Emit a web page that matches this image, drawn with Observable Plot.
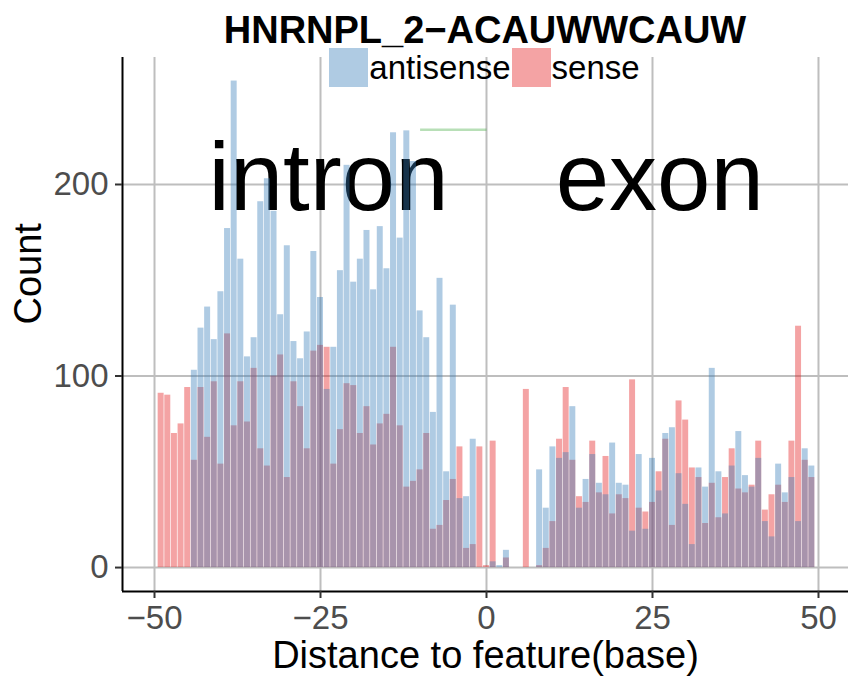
<!DOCTYPE html>
<html>
<head>
<meta charset="utf-8">
<script src="https://cdn.jsdelivr.net/npm/d3@7"></script>
<script src="https://cdn.jsdelivr.net/npm/@observablehq/plot@0.6"></script>
<style>
  body { margin: 0; background: #fff; font-family: "Liberation Sans", Arial, sans-serif; }
  #wrap { position: relative; width: 848px; height: 676px; }
  #title { position: absolute; left: 122px; width: 726px; top: 11px; text-align: center;
           font-weight: bold; font-size: 38px; line-height: 38px; color: #000; }
  #legend { position: absolute; left: 122px; width: 726px; top: 48px; display: flex;
            justify-content: center; align-items: center; font-size: 33px; line-height: 39px; color: #000; }
  .key { width: 39px; height: 39px; margin-right: 1px; }
  .lab { margin-right: 1px; }
</style>
</head>
<body>
<div id="wrap">
  <div id="chart"></div>
  <div id="title"></div>
  <div id="legend"></div>
</div>
<script>
const xPos = [-49,-48,-47,-46,-45,-44,-43,-42,-41,-40,-39,-38,-37,-36,-35,-34,-33,-32,-31,-30,
  -29,-28,-27,-26,-25,-24,-23,-22,-21,-20,-19,-18,-17,-16,-15,-14,-13,-12,-11,-10,
  -9,-8,-7,-6,-5,-4,-3,-2,-1,0,1,2,3,4,5,6,7,8,9,10,
  11,12,13,14,15,16,17,18,19,20,21,22,23,24,25,26,27,28,29,30,
  31,32,33,34,35,36,37,38,39,40,41,42,43,44,45,46,47,48,49];

const antisense = [0,0,0,0,0,103,125,136,119,144,177,254,161,110,120,191,203,186,132,168,
  118,109,123,165,141,93,115,155,210,149,161,176,145,178,156,227,172,228,212,134,
  120,81,151,50,137,36,37,67,0,0,3,1,9,0,0,0,0,51,31,63,
  57,60,84,31,46,59,44,38,65,44,43,19,59,20,57,40,70,73,49,33,
  12,52,42,104,50,28,53,71,48,42,57,24,16,54,39,47,24,62,53];

const sense = [91,90,70,75,94,56,94,68,97,54,122,74,97,76,104,62,53,100,111,47,
  97,84,62,113,116,115,54,72,96,95,70,84,64,75,80,115,74,42,45,51,
  70,20,22,35,46,63,10,12,63,1,66,0,5,0,0,93,0,1,10,24,
  67,94,56,37,34,66,39,58,28,38,36,98,31,29,34,50,67,22,87,77,
  52,47,23,44,26,47,62,41,39,43,66,30,38,43,34,66,126,56,47];

const strands = ["antisense", "sense"];
const strandColors = ["#377EB8", "#E41A1C"];
const xTicks = [-50, -25, 0, 25, 50];
const yTicks = [0, 100, 200];
const xDomain = [-54.82, 54.52];
const yDomain = [-12.5, 266.3];
const regionLabels = ["intron", "exon"];
const regionX = [-23.8, 26.1];
const regionY = 200;
const featureX = [-10, 0];
const featureY = 228.6;
const barWidth = 0.9;
const titleText = "HNRNPL_2\u2212ACAUWWCAUW";
const xLabel = "Distance to feature(base)";
const yLabel = "Count";

const toRows = (arr, strand) => xPos.map((x, i) => ({x, count: arr[i], strand}));
const senseRows = toRows(sense, "sense");
const antiRows = toRows(antisense, "antisense");
const barOpts = (fill) => ({
  x1: d => d.x - barWidth / 2, x2: d => d.x + barWidth / 2,
  y1: 0, y2: "count", fill, fillOpacity: 0.4
});

const plot = Plot.plot({
  width: 848, height: 676,
  marginTop: 57, marginBottom: 85, marginLeft: 122, marginRight: 0,
  style: { fontFamily: '"Liberation Sans", Arial, sans-serif', background: "white", overflow: "visible" },
  x: { domain: xDomain },
  y: { domain: yDomain },
  marks: [
    Plot.ruleY(yTicks, { stroke: "#bebebe", strokeWidth: 2 }),
    Plot.ruleX(xTicks, { stroke: "#bebebe", strokeWidth: 2 }),
    Plot.text(regionLabels, { x: regionX, y: regionY, text: d => d, fontSize: 96, fill: "black", lineAnchor: "middle", dy: -5 }),
    Plot.rect(senseRows, barOpts(strandColors[1])),
    Plot.rect(antiRows, barOpts(strandColors[0])),
    Plot.link([featureX], { x1: d => d[0], x2: d => d[1], y1: featureY, y2: featureY,
      stroke: "#4DAF4A", strokeOpacity: 0.4, strokeWidth: 2.4 }),
    Plot.ruleX([xDomain[0]], { stroke: "black", strokeWidth: 2 }),
    Plot.ruleY([yDomain[0]], { stroke: "black", strokeWidth: 2 }),
    Plot.axisX({ ticks: xTicks, tickSize: 7, tickPadding: 7, fontSize: 33, fill: "#4d4d4d",
      stroke: "#333333", strokeWidth: 2, tickFormat: d3.format("d"), label: null }),
    Plot.axisY({ ticks: yTicks, tickSize: 7, tickPadding: 7, fontSize: 33, fill: "#4d4d4d",
      stroke: "#333333", strokeWidth: 2, tickFormat: d3.format("d"), label: null }),
    Plot.text([yLabel], { frameAnchor: "left", dx: -94, rotate: -90, fontSize: 38, text: d => d, fill: "black" }),
    Plot.text([xLabel], { frameAnchor: "bottom", dy: 76, fontSize: 38, lineAnchor: "bottom", text: d => d, fill: "black" })
  ]
});
document.getElementById("chart").appendChild(plot);

document.getElementById("title").textContent = titleText;
const legend = document.getElementById("legend");
strands.forEach((s, i) => {
  const key = document.createElement("div");
  key.className = "key";
  key.style.background = strandColors[i];
  key.style.opacity = 0.4;
  const lab = document.createElement("span");
  lab.className = "lab";
  lab.textContent = s;
  legend.appendChild(key);
  legend.appendChild(lab);
});
</script>
</body>
</html>
